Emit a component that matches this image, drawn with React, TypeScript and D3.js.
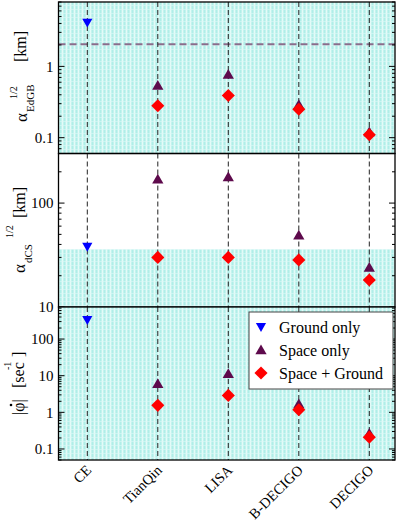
import * as d3 from "d3";

const detectors = ["CE", "TianQin", "LISA", "B-DECIGO", "DECIGO"];

// sqrt(alpha_EdGB) [km]
const edgbGround = [4.1, null, null, null, null];
const edgbSpace = [null, 0.54, 0.77, 0.29, 0.12];
const edgbBoth = [null, 0.28, 0.39, 0.25, 0.11];
const edgbBound = 2.05;

// sqrt(alpha_dCS) [km]
const dcsGround = [38, null, null, null, null];
const dcsSpace = [null, 170, 178, 49, 24];
const dcsBoth = [null, 30, 30, 28.4, 18.2];
const dcsBound = 36;

// |phi dot| [sec^-1]
const phiGround = [330, null, null, null, null];
const phiSpace = [null, 6.0, 11.3, 1.7, 0.265];
const phiBoth = [null, 1.55, 2.9, 1.18, 0.21];

const legendLabels = ["Ground only", "Space only", "Space + Ground"];

const FONT = "'Liberation Serif', 'Times New Roman', 'DejaVu Serif', serif";
const BLUE = "#0000ff";
const PURPLE = "#5e0a4c";
const RED = "#ff0000";

const left = 58.5, right = 395;
const x = d3.scalePoint<string>().domain(detectors).range([87.3, 369.3]);

const panels = [
  {
    y: d3.scaleLog().domain([0.06, 8]).range([153.5, 2]),
    ground: edgbGround, space: edgbSpace, both: edgbBoth,
    shadeTo: 8, hline: edgbBound, labels: [0.1, 1],
  },
  {
    y: d3.scaleLog().domain([10, 300]).range([307, 153.5]),
    ground: dcsGround, space: dcsSpace, both: dcsBoth,
    shadeTo: dcsBound, hline: null, labels: [10, 100],
  },
  {
    y: d3.scaleLog().domain([0.05, 750]).range([460, 307]),
    ground: phiGround, space: phiSpace, both: phiBoth,
    shadeTo: 750, hline: null, labels: [0.1, 1, 10, 100],
  },
];

const triUp = d3.symbol(d3.symbolTriangle, 55)()!;
const triDown = d3.symbol(d3.symbolTriangle, 45)()!;
const diamond = d3.symbol(d3.symbolSquare, 86)()!;

const isMajor = (v: number) => Math.abs(Math.log10(v) - Math.round(Math.log10(v))) < 1e-6;
const fmt = (v: number) => (v < 1 ? String(v) : d3.format("d")(v));

function Markers({ vals, y, kind }: { vals: (number | null)[]; y: any; kind: string }) {
  return (
    <g>
      {vals.map((v, i) =>
        v == null ? null : kind === "down" ? (
          <path key={i} d={triDown} fill={BLUE} transform={`translate(${x(detectors[i])},${y(v) - 1}) rotate(180)`} />
        ) : kind === "up" ? (
          <path key={i} d={triUp} fill={PURPLE} transform={`translate(${x(detectors[i])},${y(v) + 1})`} />
        ) : (
          <path key={i} d={diamond} fill={RED} transform={`translate(${x(detectors[i])},${y(v)}) rotate(45)`} />
        )
      )}
    </g>
  );
}

export default function App() {
  return (
    <svg width={399} height={522} style={{ position: "absolute", left: 0, top: 0, fontFamily: FONT }}>
      <defs>
        <pattern id="cyan" width="4" height="4" patternUnits="userSpaceOnUse">
          <rect width="4" height="4" fill="#c3f3ee" />
          <rect x="0" width="1" height="4" fill="#b0eee8" />
          <rect x="2" width="1" height="4" fill="#e4fbf8" />
          <rect y="1" width="4" height="1" fill="#dcf9f6" opacity="0.6" />
        </pattern>
      </defs>
      <rect width={399} height={522} fill="#fff" />
      {panels.map((p, pi) => {
        const [y0, y1] = [p.y.range()[1], p.y.range()[0]];
        const ticks = p.y.ticks();
        return (
          <g key={pi}>
            <rect x={left} y={p.y(p.shadeTo)} width={right - left} height={y1 - p.y(p.shadeTo)} fill="url(#cyan)" />
            {p.hline != null && (
              <line x1={left} x2={right} y1={p.y(p.hline)} y2={p.y(p.hline)} stroke="#8a6d8c" strokeWidth={2} strokeDasharray="7,4" />
            )}
            {detectors.map((d) => (
              <line key={d} x1={x(d)} x2={x(d)} y1={y0} y2={y1} stroke="#222" strokeWidth={1} strokeDasharray="5,3" />
            ))}
            {ticks.map((t, i) => {
              const len = isMajor(t) ? 6 : 3;
              const yy = p.y(t);
              return (
                <g key={i} stroke="#000" strokeWidth={1}>
                  <line x1={left} x2={left + len} y1={yy} y2={yy} />
                  <line x1={right} x2={right - len} y1={yy} y2={yy} />
                </g>
              );
            })}
            {p.labels.map((t) => (
              <text key={t} x={left - 5} y={p.y(t)} dy="0.35em" textAnchor="end" fontSize={15}>
                {fmt(t)}
              </text>
            ))}
            <Markers vals={p.ground} y={p.y} kind="down" />
            <Markers vals={p.space} y={p.y} kind="up" />
            <Markers vals={p.both} y={p.y} kind="diamond" />
            <rect x={left} y={y0} width={right - left} height={y1 - y0} fill="none" stroke="#000" strokeWidth={1.3} />
          </g>
        );
      })}

      {/* y axis titles */}
      <g transform="translate(27,122) rotate(-90)">
        <text x={0} y={0} fontSize={17}>α</text>
        <text x={10} y={7} fontSize={11}>EdGB</text>
        <text x={23} y={-10} fontSize={10}>1/2</text>
        <text x={60} y={-1} fontSize={16}>[km]</text>
      </g>
      <g transform="translate(25,273) rotate(-90)">
        <text x={0} y={0} fontSize={17}>α</text>
        <text x={10} y={7} fontSize={11}>dCS</text>
        <text x={35} y={-12} fontSize={10}>1/2</text>
        <text x={55} y={0} fontSize={16}>[km]</text>
      </g>
      <g transform="translate(24,415) rotate(-90)">
        <text x={0} y={0} fontSize={16}>|φ|</text>
        <circle cx={10} cy={-13} r={1.3} fill="#000" />
        <text x={27} y={0} fontSize={16}>[sec</text>
        <text x={45} y={-13} fontSize={10}>-1</text>
        <text x={58} y={0} fontSize={16}>]</text>
      </g>

      {/* x tick labels */}
      {detectors.map((d) => (
        <text key={d} transform={`translate(${x(d)! + 5},471) rotate(-45)`} textAnchor="end" fontSize={14.5}>
          {d}
        </text>
      ))}

      {/* legend */}
      <g>
        <rect x={249} y={312} width={144} height={77} fill="#fff" stroke="#444" strokeWidth={1} />
        {legendLabels.map((l, i) => {
          const ly = 327 + i * 23;
          return (
            <g key={l}>
              {i === 0 && <path d={triDown} fill={BLUE} transform={`translate(261,${ly - 1}) rotate(180)`} />}
              {i === 1 && <path d={triUp} fill={PURPLE} transform={`translate(261,${ly + 1})`} />}
              {i === 2 && <path d={diamond} fill={RED} transform={`translate(261,${ly}) rotate(45)`} />}
              <text x={279} y={ly} dy="0.35em" fontSize={16}>{l}</text>
            </g>
          );
        })}
      </g>
    </svg>
  );
}
